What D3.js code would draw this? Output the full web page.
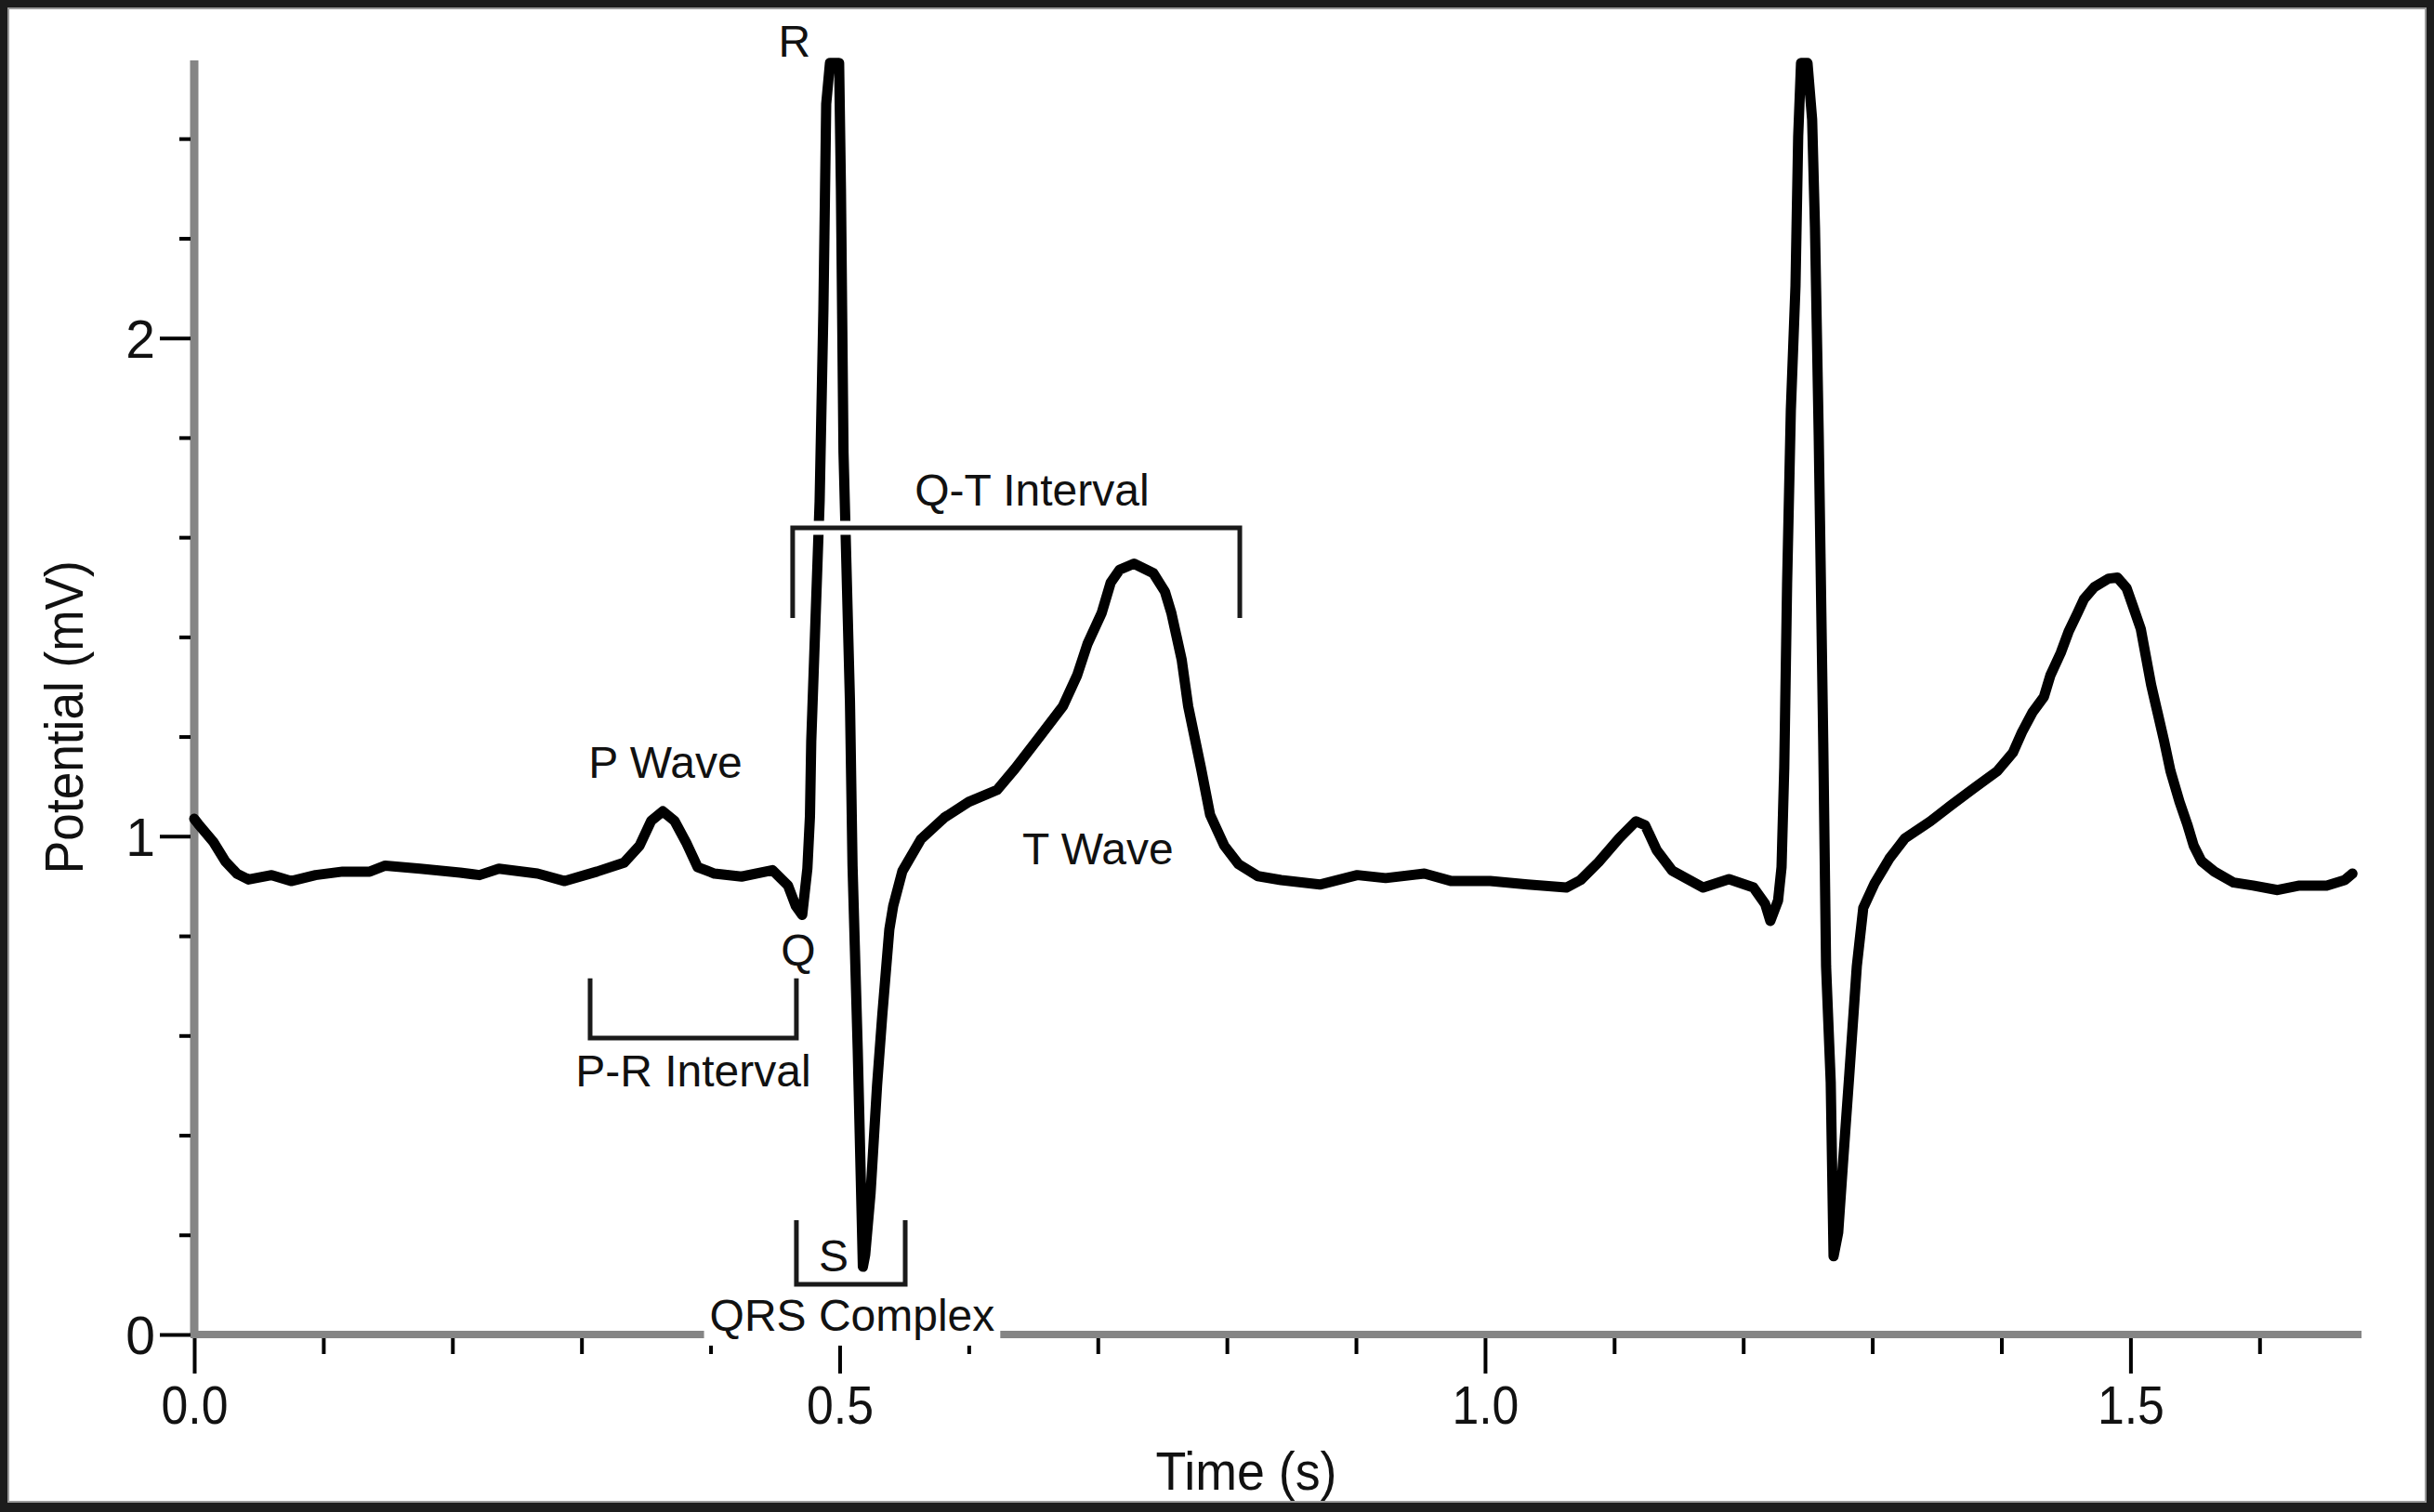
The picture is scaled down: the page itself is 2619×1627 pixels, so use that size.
<!DOCTYPE html>
<html lang="en">
<head>
  <meta charset="utf-8" />
  <title>ECG trace</title>
  <style>
    body { margin: 0; background: #1c1c1c; }
    text { font-family: "Liberation Sans", Arial, sans-serif; fill: #111; }
  </style>
  <script src="https://d3js.org/d3.v7.min.js"></script>
</head>
<body>
<script>

// ECG samples (time in s, potential in mV)
const timeS = [
  0.000, 0.003, 0.015, 0.024, 0.033, 0.042, 0.060, 0.075, 0.094, 0.115,
  0.136, 0.148, 0.175, 0.206, 0.221, 0.236, 0.266, 0.287, 0.312, 0.333,
  0.345, 0.354, 0.363, 0.372, 0.381, 0.390, 0.403, 0.424, 0.448, 0.460,
  0.466, 0.471, 0.475, 0.477, 0.478, 0.4845, 0.4874, 0.4896, 0.4925, 0.4996,
  0.501, 0.503, 0.508, 0.510, 0.514, 0.518, 0.5198, 0.524, 0.529, 0.533,
  0.5385, 0.5415, 0.5486, 0.563, 0.581, 0.600, 0.622, 0.636, 0.655, 0.673,
  0.684, 0.692, 0.703, 0.710, 0.717, 0.728, 0.743, 0.752, 0.757, 0.765,
  0.770, 0.780, 0.787, 0.798, 0.809, 0.824, 0.842, 0.872, 0.901, 0.923,
  0.953, 0.974, 1.004, 1.033, 1.063, 1.074, 1.088, 1.104, 1.117, 1.124,
  1.133, 1.145, 1.169, 1.189, 1.208, 1.217, 1.221, 1.227, 1.2297, 1.2318,
  1.234, 1.2369, 1.2405, 1.2426, 1.2448, 1.2498, 1.2534, 1.2556, 1.2585, 1.262,
  1.2642, 1.2678, 1.270, 1.2736, 1.2772, 1.2822, 1.288, 1.293, 1.3017, 1.3132,
  1.3254, 1.345, 1.3614, 1.379, 1.397, 1.409, 1.416, 1.424, 1.433, 1.438,
  1.446, 1.452, 1.459, 1.464, 1.472, 1.483, 1.490, 1.497, 1.502, 1.508,
  1.512, 1.516, 1.521, 1.526, 1.531, 1.538, 1.544, 1.549, 1.555, 1.565,
  1.580, 1.595, 1.614, 1.631, 1.652, 1.666, 1.672
];
const potentialMV = [
  1.035, 1.025, 0.988, 0.950, 0.925, 0.913, 0.922, 0.910, 0.922, 0.929,
  0.929, 0.941, 0.935, 0.927, 0.922, 0.935, 0.925, 0.910, 0.929, 0.947,
  0.981, 1.031, 1.050, 1.031, 0.988, 0.938, 0.925, 0.919, 0.932, 0.901,
  0.860, 0.842, 0.935, 1.040, 1.190, 1.672, 2.054, 2.470, 2.552, 2.552,
  2.300, 1.770, 1.270, 0.940, 0.573, 0.136, 0.160, 0.285, 0.500, 0.640,
  0.813, 0.860, 0.930, 0.994, 1.037, 1.069, 1.093, 1.136, 1.200, 1.261,
  1.323, 1.386, 1.448, 1.509, 1.535, 1.547, 1.528, 1.491, 1.448, 1.354,
  1.261, 1.136, 1.043, 0.981, 0.944, 0.920, 0.912, 0.903, 0.922, 0.916,
  0.925, 0.910, 0.910, 0.903, 0.897, 0.912, 0.948, 0.996, 1.030, 1.022,
  0.972, 0.931, 0.897, 0.914, 0.897, 0.864, 0.830, 0.871, 0.938, 1.138,
  1.506, 1.855, 2.104, 2.405, 2.552, 2.552, 2.438, 2.222, 1.804, 1.188,
  0.739, 0.506, 0.157, 0.205, 0.340, 0.522, 0.739, 0.856, 0.905, 0.955,
  0.996, 1.030, 1.063, 1.097, 1.131, 1.168, 1.209, 1.248, 1.280, 1.323,
  1.368, 1.410, 1.448, 1.476, 1.500, 1.517, 1.519, 1.498, 1.461, 1.416,
  1.360, 1.304, 1.248, 1.192, 1.131, 1.069, 1.024, 0.981, 0.950, 0.929,
  0.907, 0.901, 0.892, 0.901, 0.901, 0.912, 0.925
];

const xMajorTicks = [0, 0.5, 1.0, 1.5];
const xTickLabels = ["0.0", "0.5", "1.0", "1.5"];
const xMinorTicks = [0.1, 0.2, 0.3, 0.4, 0.6, 0.7, 0.8, 0.9, 1.1, 1.2, 1.3, 1.4, 1.6];
const yMajorTicks = [0, 1, 2];
const yTickLabels = ["0", "1", "2"];
const yMinorTicks = [0.2, 0.4, 0.6, 0.8, 1.2, 1.4, 1.6, 1.8, 2.2, 2.4];

const W = 2619, H = 1627;

const svg = d3.select("body").append("svg")
    .attr("width", W)
    .attr("height", H);

// frame
svg.append("rect").attr("width", W).attr("height", H).attr("fill", "#1c1c1c");
svg.append("rect")
    .attr("x", 9).attr("y", 9)
    .attr("width", 2601).attr("height", 1607)
    .attr("fill", "#fff")
    .attr("stroke", "#9a9a9a").attr("stroke-width", 2);

const x = d3.scaleLinear().domain([0, 1.679]).range([209, 2541]);
const y = d3.scaleLinear().domain([0, 2.557]).range([1436, 65]);

const AXIS_GREY = "#858585";
const FONT = '"Liberation Sans", Arial, sans-serif';

// ---- x axis
const gxMinor = svg.append("g").attr("transform", `translate(0,${y(0)})`)
    .call(d3.axisBottom(x).tickValues(xMinorTicks).tickSize(21).tickSizeOuter(0).tickFormat(""));
gxMinor.select(".domain").attr("stroke", AXIS_GREY).attr("stroke-width", 8)
    .attr("d", `M${x(0) - 4},0H${x.range()[1]}`);

const gxMajor = svg.append("g").attr("transform", `translate(0,${y(0)})`)
    .call(d3.axisBottom(x).tickValues(xMajorTicks).tickSize(42).tickSizeOuter(0)
      .tickFormat((d, i) => xTickLabels[i]));
gxMajor.select(".domain").remove();
gxMajor.selectAll("text")
    .attr("y", 96).attr("dy", null)
    .attr("font-size", 57).attr("font-family", FONT)
    .attr("textLength", 72).attr("lengthAdjust", "spacingAndGlyphs")
    .attr("fill", "#111");

// ---- y axis
const gyMinor = svg.append("g").attr("transform", `translate(${x(0)},0)`)
    .call(d3.axisLeft(y).tickValues(yMinorTicks).tickSize(16).tickSizeOuter(0).tickFormat(""));
gyMinor.select(".domain").attr("stroke", AXIS_GREY).attr("stroke-width", 9)
    .attr("d", `M0,${y(0)}V${y.range()[1]}`);

const gyMajor = svg.append("g").attr("transform", `translate(${x(0)},0)`)
    .call(d3.axisLeft(y).tickValues(yMajorTicks).tickSize(37).tickSizeOuter(0)
      .tickFormat((d, i) => yTickLabels[i]));
gyMajor.select(".domain").remove();
gyMajor.selectAll("text")
    .attr("x", -42).attr("dy", "0.36em")
    .attr("font-size", 57).attr("font-family", FONT)
    .attr("fill", "#111");

// ticks start just outside the grey axis bars
svg.selectAll(".tick line").attr("stroke", "#000").attr("stroke-width", 4);
gxMinor.selectAll(".tick line").attr("y1", 4);
gxMajor.selectAll(".tick line").attr("y1", 4);
gyMinor.selectAll(".tick line").attr("x1", -4);
gyMajor.selectAll(".tick line").attr("x1", -4);

// axis titles
svg.append("text")
    .attr("x", x(0.815)).attr("y", 1603)
    .attr("text-anchor", "middle")
    .attr("font-size", 57)
    .attr("textLength", 195).attr("lengthAdjust", "spacingAndGlyphs")
    .text("Time (s)");

svg.append("text")
    .attr("transform", `translate(89,${y(1.239)}) rotate(-90)`)
    .attr("text-anchor", "middle")
    .attr("font-size", 57)
    .attr("textLength", 337).attr("lengthAdjust", "spacingAndGlyphs")
    .text("Potential (mV)");

// ---- trace
const samples = timeS.map((t, i) => ({t: t, v: potentialMV[i]}));
const line = d3.line().x(d => x(d.t)).y(d => y(d.v));

svg.append("path")
    .datum(samples)
    .attr("d", line)
    .attr("fill", "none")
    .attr("stroke", "#000")
    .attr("stroke-width", 11)
    .attr("stroke-linejoin", "round")
    .attr("stroke-linecap", "round");

// ---- annotations (placed in data units)
function bracket(t0, t1, vEnd, vBar, halo) {
  const d = `M${x(t0)},${y(vEnd)}V${y(vBar)}H${x(t1)}V${y(vEnd)}`;
  if (halo) {
    svg.append("path").attr("d", `M${x(t0) - 2},${y(vBar)}H${x(t1) + 2}`)
      .attr("fill", "none").attr("stroke", "#fff").attr("stroke-width", 15);
  }
  svg.append("path").attr("d", d)
    .attr("fill", "none").attr("stroke", "#1a1a1a").attr("stroke-width", 5);
}

bracket(0.4636, 0.8100, 1.438, 1.619, true);   // Q-T
bracket(0.3067, 0.4665, 0.7146, 0.595, false); // P-R
bracket(0.4665, 0.5508, 0.2295, 0.1007, false); // S

function label(txt, t, v, boxed) {
  const el = svg.append("text")
    .attr("x", x(t)).attr("y", y(v))
    .attr("text-anchor", "middle")
    .attr("font-size", 48)
    .text(txt);
  if (boxed) {
    const b = el.node().getBBox();
    svg.insert("rect", () => el.node())
      .attr("x", b.x - 6).attr("y", b.y - 2)
      .attr("width", b.width + 12).attr("height", b.height + 8)
      .attr("fill", "#fff");
  }
}

label("R", 0.465, 2.565);
label("Q-T Interval", 0.649, 1.664);
label("P Wave", 0.365, 1.118);
label("T Wave", 0.700, 0.944);
label("Q", 0.468, 0.741);
label("P-R Interval", 0.3866, 0.498);
label("S", 0.4953, 0.127);
label("QRS Complex", 0.5097, 0.0075, true);

</script>
</body>
</html>
